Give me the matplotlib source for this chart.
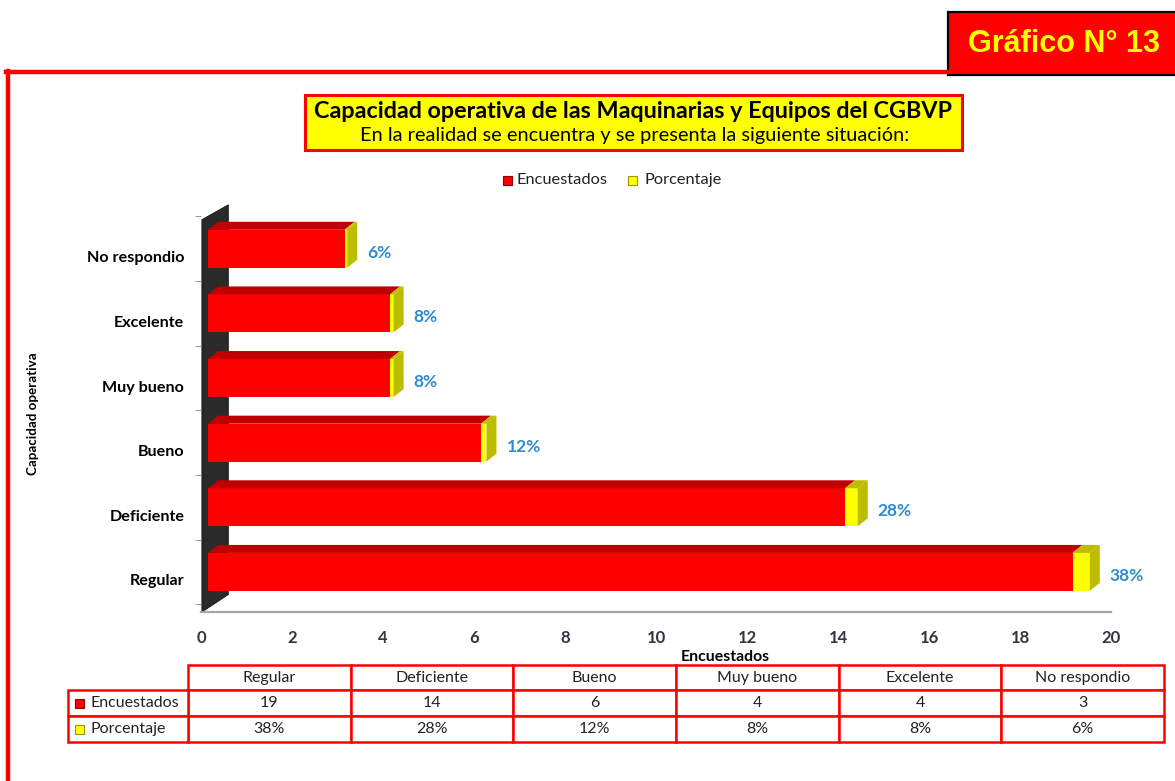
import matplotlib
matplotlib.use("Agg")
import matplotlib.pyplot as plt
from matplotlib.patches import Rectangle, Polygon
from matplotlib.lines import Line2D
from matplotlib.transforms import ScaledTranslation

# ---------------- data ----------------
categories = ["Regular", "Deficiente", "Bueno", "Muy bueno", "Excelente", "No respondio"]
encuestados = [19, 14, 6, 4, 4, 3]
porcentaje = [38, 28, 12, 8, 8, 6]
pct_labels = ["38%", "28%", "12%", "8%", "8%", "6%"]
x_ticks = [0, 2, 4, 6, 8, 10, 12, 14, 16, 18, 20]
series_names = ["Encuestados", "Porcentaje"]
title_main = "Capacidad operativa de las Maquinarias y Equipos del CGBVP"
title_sub = "En la realidad se encuentra y se presenta la siguiente situación:"
badge = "Gráfico N° 13"

RED = "#FF0000"
RED_TOP = "#C00000"
YEL = "#FFFF00"
YEL_DARK = "#BDBD00"
BLUE = "#2E8BD0"
FONT = "Lato"

W, H = 1175, 781
fig = plt.figure(figsize=(W / 100, H / 100), dpi=100)
fig.patch.set_facecolor("white")

def fx(px):
    return px / W

def fy(py):
    return 1 - py / H

# ---------------- outer frame & badge ----------------
fig.add_artist(Line2D([fx(6), fx(950)], [fy(72), fy(72)], color=RED, lw=3.2))
fig.add_artist(Line2D([fx(8), fx(8)], [fy(71), fy(781)], color=RED, lw=3.2))
fig.add_artist(Rectangle((fx(948), fy(75)), fx(240), 63 / H, facecolor=RED,
                         edgecolor="black", lw=1.6))
fig.text(fx(1064), fy(44), badge, color=YEL, fontsize=22, fontweight="bold",
         family="Liberation Sans", ha="center", va="center")

# ---------------- title box ----------------
fig.add_artist(Rectangle((fx(305), fy(150)), fx(657), 55 / H, facecolor=YEL,
                         edgecolor=RED, lw=2.2))
fig.text(fx(633), fy(112), title_main, fontsize=16.8, fontweight="bold",
         family=FONT, ha="center", va="center", color="black")
fig.text(fx(635), fy(135.5), title_sub, fontsize=14.4, family=FONT,
         ha="center", va="center", color="black")

# ---------------- legend ----------------
for (sx, tx, name, fc, ec) in [(503, 517, series_names[0], RED, "#900000"),
                               (628, 645, series_names[1], YEL, "#9a9a00")]:
    fig.add_artist(Rectangle((fx(sx), fy(185)), fx(9), 9 / H, facecolor=fc,
                             edgecolor=ec, lw=0.8))
    fig.text(fx(tx), fy(180), name, fontsize=11.8, family=FONT, ha="left",
             va="center", color="#222222")

# ---------------- chart axes ----------------
ax = fig.add_axes([fx(201), fy(612), fx(910), 402 / H])
ax.set_xlim(0, 20)
ax.set_ylim(-0.62, 5.60)
for s in ax.spines.values():
    s.set_visible(False)
ax.patch.set_alpha(0)

px_x = 910 / 20.0
px_y = 402 / 6.22
dx = 10 / px_x
dy = 8 / px_y
h = 38 / px_y

shift = ax.transData + ScaledTranslation(7 / 100, 0, fig.dpi_scale_trans)

# back wall (dark)
wall = Polygon([(0.02, 5.45), (0.6, 5.68), (0.6, -0.35), (0.02, -0.62)],
               closed=True, facecolor="#2a2a2a", edgecolor="#111111", lw=0.6,
               transform=ax.transData, clip_on=False, zorder=1)
ax.add_patch(wall)

yc = list(range(len(categories)))
pvals = [p / 100 for p in porcentaje]
ax.barh(yc, encuestados, height=h, color=RED, edgecolor="none", transform=shift, zorder=3)
ax.barh(yc, pvals, left=encuestados, height=h, color=YEL, edgecolor="none",
        transform=shift, zorder=3)
for y, v, p in zip(yc, encuestados, pvals):
    top = y + h / 2
    bot = y - h / 2
    ax.add_patch(Polygon([(0, top), (v, top), (v + dx, top + dy), (dx, top + dy)],
                         closed=True, facecolor=RED_TOP, edgecolor="none",
                         transform=shift, zorder=3))
    ax.add_patch(Polygon([(v, top), (v + p, top), (v + p + dx, top + dy), (v + dx, top + dy)],
                         closed=True, facecolor=YEL_DARK, edgecolor="none",
                         transform=shift, zorder=3))
    e = v + p
    ax.add_patch(Polygon([(e, bot), (e, top), (e + dx, top + dy), (e + dx, bot + dy)],
                         closed=True, facecolor=YEL_DARK, edgecolor="none",
                         transform=shift, zorder=3))

for y, v, p, lab in zip(yc, encuestados, pvals, pct_labels):
    ax.text(v + p + 20 / px_x, y - 0.06, lab, color=BLUE, fontsize=12.5,
            fontweight="bold", family=FONT, ha="left", va="center",
            transform=shift, zorder=4)

# floor line
ax.plot([0, 20], [-0.62, -0.62], color="#A6A6A6", lw=1.6, clip_on=False, zorder=2)

ax.set_yticks(yc)
ax.set_yticklabels(categories, fontsize=11.6, fontweight="bold", family=FONT)
ax.tick_params(axis="y", length=0, pad=12)
for lab in ax.get_yticklabels():
    lab.set_transform(lab.get_transform() + ScaledTranslation(0, -8 / 100, fig.dpi_scale_trans))
ax.set_yticks([i + 0.5 for i in range(-1, 6)], minor=True)
ax.tick_params(axis="y", which="minor", length=4, color="#888888", pad=0)
ax.set_xticks(x_ticks)
ax.set_xticklabels([str(t) for t in x_ticks], fontsize=12, fontweight="bold",
                   family=FONT, color="#333344")
ax.tick_params(axis="x", length=0, pad=13)
ax.set_xlabel("Encuestados", fontsize=11.4, fontweight="bold", family=FONT, labelpad=-1)
ax.xaxis.set_label_coords((725 - 201) / 910, -(650 - 612) / 402)

fig.text(fx(33), fy(414), "Capacidad operativa", rotation=90, fontsize=9.6,
         fontweight="bold", family=FONT, ha="center", va="center")

# ---------------- data table ----------------
col_left = 188
col_w = (1164 - 188) / 6
row_tops = [665, 690, 716]
row_h = [25, 26, 26]
tlw = 1.8
TFS = 11.5
for i, cat in enumerate(categories):
    x0 = col_left + i * col_w
    for r in range(3):
        fig.add_artist(Rectangle((fx(x0), fy(row_tops[r] + row_h[r])), fx(col_w),
                                 row_h[r] / H, facecolor="white", edgecolor=RED, lw=tlw))
    fig.text(fx(x0 + col_w / 2), fy(678), cat, fontsize=TFS, family=FONT,
             ha="center", va="center", color="#222222")
    fig.text(fx(x0 + col_w / 2), fy(703), str(encuestados[i]), fontsize=TFS,
             family=FONT, ha="center", va="center", color="#222222")
    fig.text(fx(x0 + col_w / 2), fy(729), f"{porcentaje[i]}%", fontsize=TFS,
             family=FONT, ha="center", va="center", color="#222222")
for r, (name, fc, ec) in zip([1, 2], [(series_names[0], RED, "#900000"),
                                      (series_names[1], YEL, "#9a9a00")]):
    fig.add_artist(Rectangle((fx(68), fy(row_tops[r] + row_h[r])), fx(120),
                             row_h[r] / H, facecolor="white", edgecolor=RED, lw=tlw))
    cy = row_tops[r] + row_h[r] / 2
    fig.add_artist(Rectangle((fx(75), fy(cy + 5)), fx(9), 9 / H, facecolor=fc,
                             edgecolor=ec, lw=0.8))
    fig.text(fx(91), fy(cy), name, fontsize=TFS, family=FONT, ha="left",
             va="center", color="#222222")

fig.savefig("out.png", dpi=100, facecolor="white")
